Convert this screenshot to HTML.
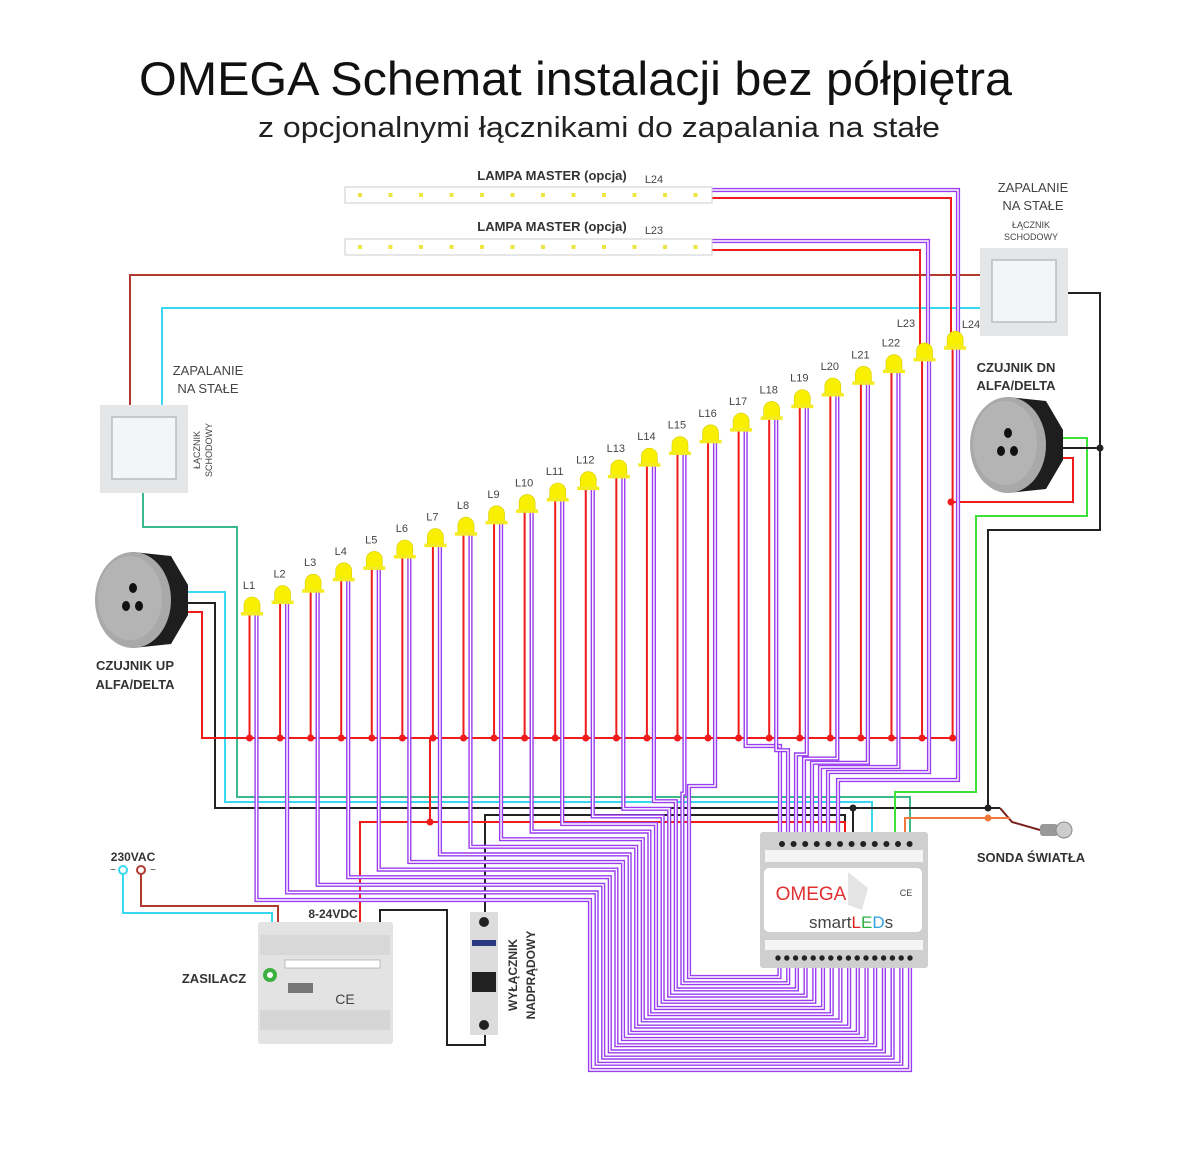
<!DOCTYPE html>
<html><head><meta charset="utf-8"><style>
html,body{margin:0;padding:0;background:#fff;width:1200px;height:1150px;overflow:hidden}
svg text{font-family:"Liberation Sans","DejaVu Sans",sans-serif}
</style></head><body>
<svg id="s" width="1200" height="1150" viewBox="0 0 1200 1150" xmlns="http://www.w3.org/2000/svg">
<rect width="1200" height="1150" fill="#fff"/>
<text x="139" y="95" font-size="47" textLength="873" lengthAdjust="spacingAndGlyphs" fill="#111">OMEGA Schemat instalacji bez półpiętra</text>
<text x="258" y="137" font-size="29" textLength="682" lengthAdjust="spacingAndGlyphs" fill="#222">z opcjonalnymi łącznikami do zapalania na stałe</text>
<g id="wires" fill="none" stroke-linejoin="miter"></g>
<g id="top"></g>
</svg>
<script>
var NS="http://www.w3.org/2000/svg",W=document.getElementById('wires'),T=document.getElementById('top');
function el(p,t,a,txt){var e=document.createElementNS(NS,t);for(var k in a)e.setAttribute(k,a[k]);if(txt!=null)e.textContent=txt;p.appendChild(e);return e;}
function pl(pts,c,w){return el(W,'polyline',{points:pts.map(function(p){return p.join(',')}).join(' '),stroke:c,'stroke-width':w||2,fill:'none'});}
function pur(pts){pl(pts,'#9a3cf0',4.2);pl(pts,'#fff',1.4);}
function dot(x,y,c){el(W,'circle',{cx:x,cy:y,r:3.5,fill:c});}
var RED='#f01c1c',DR='#b03a30',CY='#38d8f0',GR='#3bb98a',LG='#3ee03a',BK='#222',OR='#f07838';
pl([[130,405],[130,275],[985,275]],DR);
pl([[162,405],[162,308],[985,308]],CY);
pl([[143,493],[143,527],[237,527],[237,797],[910,797],[910,835]],GR);
pl([[185,592],[225,592],[225,802],[872,802],[872,835]],CY);
pl([[185,603],[215,603],[215,808],[1000,808]],BK);
pl([[185,612],[202,612],[202,738],[951,738]],RED);
pl([[1068,293],[1100,293],[1100,530],[988,530],[988,808]],BK);
dot(1100,448,BK);dot(988,808,BK);dot(853,808,BK);
pl([[853,808],[853,835]],BK);
pl([[1060,438],[1087,438],[1087,516],[976,516],[976,792],[895,792],[895,835]],LG);
pl([[1060,448],[1100,448]],BK);
pl([[1060,458],[1073,458],[1073,502],[951,502]],RED);
dot(951,502,RED);
pl([[1000,808],[1012,822],[1040,830]],'#7a2020',2);
pl([[1010,818],[905,818],[905,835]],OR);
dot(988,818,OR);
pl([[485,912],[485,815],[845,815],[845,832]],BK);
pl([[360,922],[360,822],[845,822],[845,835]],RED);
pl([[430,738],[430,822]],RED);dot(430,822,RED);
pl([[380,922],[380,910],[447,910],[447,1045],[485,1045],[485,1035]],BK);
pl([[123,874],[123,913],[272,913],[272,922]],CY);
pl([[141,874],[141,906],[278,906],[278,922]],DR);
pl([[712,198],[951,198],[951,340]],RED);
pl([[712,250],[920,250],[920,360]],RED);
var cx=[],tops=[];
for(var i=1;i<=24;i++){cx[i]=252+(i-1)*30.57;tops[i]=597-(i-1)*11.4-(i>12? (i-12)*0.3:0);}
pur([[712,190],[958,190],[958,780],[838,780],[838,832]]);
pur([[712,241],[928,241],[928,360]]);
for(var i=1;i<=24;i++){
 var x=cx[i],b=tops[i]+17,rx=x-2.5,px=x+4.5;
 pl([[rx,b],[rx,738]],RED);dot(rx,738,RED);
 if(i<=16){var k=i-1,h=900-k*7.6,vx=590+k*6.6,bt=1070-k*6.2,bx=910-k*8.7;
  pur([[px,b],[px,h],[vx,h],[vx,bt],[bx,bt],[bx,968]]);}
 else if(i==24){}
 else if(i==23){pur([[px,b],[px,772],[828,772],[828,832]]);}
 else{var j=i-17,y=746+j*4.2,vx=780+j*8;pur([[px,b],[px,y],[vx,y],[vx,832]]);}
}
for(var i=1;i<=24;i++){var x=cx[i],t=tops[i];
 el(T,'path',{d:'M'+(x-8)+','+(t+16)+' L'+(x-8)+','+(t+8)+' A8,8 0 0 1 '+(x+8)+','+(t+8)+' L'+(x+8)+','+(t+16)+' Z',fill:'#f8f000',stroke:'#d8cc00','stroke-width':0.6});
 el(T,'rect',{x:x-11,y:t+15,width:22,height:3.5,fill:'#f4ec20'});
 var lx=x-3,ly=t-8;
 if(i==23){lx=906;ly=327;} if(i==24){lx=971;ly=328;}
 el(T,'text',{x:lx,y:ly,'font-size':11,fill:'#444','text-anchor':'middle'},'L'+i);}
[[187,'L24',180],[239,'L23',231]].forEach(function(a){
 el(T,'rect',{x:345,y:a[0],width:367,height:16,fill:'#fff',stroke:'#ccc','stroke-width':1});
 for(var k=0;k<12;k++)el(T,'rect',{x:358+k*30.5,y:a[0]+6,width:4,height:4,fill:'#eee640'});
 el(T,'text',{x:552,y:a[2],'font-size':13,'font-weight':'bold','text-anchor':'middle',fill:'#333'},'LAMPA MASTER (opcja)');
 el(T,'text',{x:654,y:a[2]+3,'font-size':11,'text-anchor':'middle',fill:'#444'},a[1]);});
function sw(x,y){el(T,'rect',{x:x,y:y,width:88,height:88,fill:'#e4e6e8'});
 el(T,'rect',{x:x+12,y:y+12,width:64,height:62,fill:'#f4f5f6',stroke:'#b8bcc0','stroke-width':1.5});}
sw(100,405);sw(980,248);
el(T,'text',{x:208,y:375,'font-size':13,'text-anchor':'middle',fill:'#444'},'ZAPALANIE');
el(T,'text',{x:208,y:393,'font-size':13,'text-anchor':'middle',fill:'#444'},'NA STAŁE');
el(T,'text',{transform:'translate(200,450) rotate(-90)','font-size':9,'text-anchor':'middle',fill:'#444'},'ŁĄCZNIK');
el(T,'text',{transform:'translate(212,450) rotate(-90)','font-size':9,'text-anchor':'middle',fill:'#444'},'SCHODOWY');
el(T,'text',{x:1033,y:192,'font-size':13,'text-anchor':'middle',fill:'#444'},'ZAPALANIE');
el(T,'text',{x:1033,y:210,'font-size':13,'text-anchor':'middle',fill:'#444'},'NA STAŁE');
el(T,'text',{x:1031,y:228,'font-size':9,'text-anchor':'middle',fill:'#444'},'ŁĄCZNIK');
el(T,'text',{x:1031,y:240,'font-size':9,'text-anchor':'middle',fill:'#444'},'SCHODOWY');
function sensor(cx,cy){el(T,'path',{d:'M'+cx+','+(cy-48)+' L'+(cx+38)+','+(cy-44)+' L'+(cx+55)+','+(cy-15)+' L'+(cx+55)+','+(cy+15)+' L'+(cx+38)+','+(cy+44)+' L'+cx+','+(cy+48)+'Z',fill:'#1e1e1e'});
 el(T,'ellipse',{cx:cx,cy:cy,rx:38,ry:48,fill:'#a9a9a9'});
 el(T,'ellipse',{cx:cx-3,cy:cy-2,rx:32,ry:42,fill:'#b4b4b4'});
 [[0,-12],[-7,6],[6,6]].forEach(function(d){el(T,'ellipse',{cx:cx+d[0],cy:cy+d[1],rx:4,ry:5,fill:'#111'});});}
sensor(133,600);sensor(1008,445);
el(T,'text',{x:135,y:670,'font-size':13,'font-weight':'bold','text-anchor':'middle',fill:'#333'},'CZUJNIK UP');
el(T,'text',{x:135,y:689,'font-size':13,'font-weight':'bold','text-anchor':'middle',fill:'#333'},'ALFA/DELTA');
el(T,'text',{x:1016,y:372,'font-size':13,'font-weight':'bold','text-anchor':'middle',fill:'#333'},'CZUJNIK DN');
el(T,'text',{x:1016,y:390,'font-size':13,'font-weight':'bold','text-anchor':'middle',fill:'#333'},'ALFA/DELTA');
el(T,'rect',{x:1040,y:824,width:18,height:12,fill:'#999',rx:3});
el(T,'circle',{cx:1064,cy:830,r:8,fill:'#ccc',stroke:'#888'});
el(T,'text',{x:1031,y:862,'font-size':13,'font-weight':'bold','text-anchor':'middle',fill:'#333'},'SONDA ŚWIATŁA');
el(T,'text',{x:133,y:861,'font-size':12,'font-weight':'bold','text-anchor':'middle',fill:'#333'},'230VAC');
el(T,'circle',{cx:123,cy:870,r:4,fill:'#fff',stroke:CY,'stroke-width':2});
el(T,'circle',{cx:141,cy:870,r:4,fill:'#fff',stroke:DR,'stroke-width':2});
el(T,'text',{x:113,y:873,'font-size':10,'text-anchor':'middle',fill:'#333'},'~');
el(T,'text',{x:153,y:873,'font-size':10,'text-anchor':'middle',fill:'#333'},'~');
el(T,'rect',{x:258,y:922,width:135,height:122,fill:'#e3e3e3',rx:3});
el(T,'rect',{x:260,y:935,width:130,height:20,fill:'#d8d8d8'});
el(T,'rect',{x:260,y:1010,width:130,height:20,fill:'#d6d6d6'});
el(T,'rect',{x:285,y:960,width:95,height:8,fill:'#fff',stroke:'#888','stroke-width':0.5});
el(T,'circle',{cx:270,cy:975,r:7,fill:'#3cb040'});el(T,'circle',{cx:270,cy:975,r:3,fill:'#fff'});
el(T,'rect',{x:288,y:983,width:25,height:10,fill:'#777'});
el(T,'text',{x:345,y:1004,'font-size':14,'text-anchor':'middle',fill:'#444'},'CE');
el(T,'text',{x:333,y:918,'font-size':12,'font-weight':'bold','text-anchor':'middle',fill:'#333'},'8-24VDC');
el(T,'text',{x:214,y:983,'font-size':13,'font-weight':'bold','text-anchor':'middle',fill:'#333'},'ZASILACZ');
el(T,'rect',{x:470,y:912,width:28,height:123,fill:'#dcdcdc'});
el(T,'circle',{cx:484,cy:922,r:5,fill:'#222'});el(T,'circle',{cx:484,cy:1025,r:5,fill:'#222'});
el(T,'rect',{x:472,y:940,width:24,height:6,fill:'#2a3a80'});
el(T,'rect',{x:472,y:972,width:24,height:20,fill:'#222'});
el(T,'text',{transform:'translate(517,975) rotate(-90)','font-size':12,'font-weight':'bold','text-anchor':'middle',fill:'#333'},'WYŁĄCZNIK');
el(T,'text',{transform:'translate(535,975) rotate(-90)','font-size':12,'font-weight':'bold','text-anchor':'middle',fill:'#333'},'NADPRĄDOWY');
el(T,'rect',{x:760,y:832,width:168,height:136,fill:'#cfcfcf',rx:3});
el(T,'rect',{x:765,y:850,width:158,height:12,fill:'#f4f4f4'});
el(T,'rect',{x:765,y:940,width:158,height:10,fill:'#f4f4f4'});
el(T,'rect',{x:764,y:868,width:158,height:64,fill:'#fff',rx:5});
el(T,'path',{d:'M848,872 L868,888 L862,910 L848,905 Z',fill:'#e4e4e4'});
for(var k=0;k<12;k++)el(T,'circle',{cx:782+k*11.6,cy:844,r:3,fill:'#222'});
for(var k=0;k<16;k++)el(T,'circle',{cx:778+k*8.8,cy:958,r:2.7,fill:'#222'});
el(T,'text',{x:811,y:900,'font-size':19,fill:'#e03030','text-anchor':'middle','font-family':'Liberation Sans Narrow, Liberation Sans'},'OMEGA');
var st=el(T,'text',{x:809,y:928,'font-size':17,fill:'#444'});
[['smart','#444'],['L','#e02020'],['E','#30b040'],['D','#30a0e0'],['s','#444']].forEach(function(a){el(st,'tspan',{fill:a[1]},a[0]);});
el(T,'text',{x:906,y:896,'font-size':9,fill:'#444','text-anchor':'middle'},'CE');
</script>
</body></html>
